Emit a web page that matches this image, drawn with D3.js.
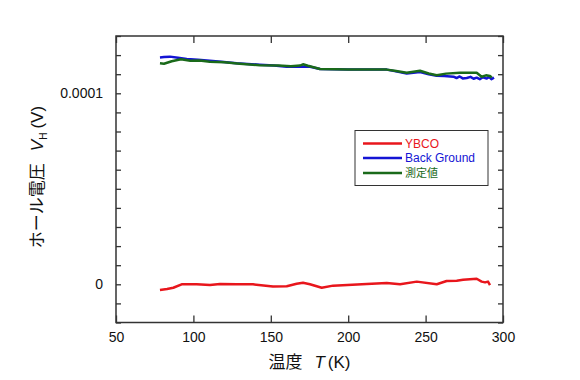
<!DOCTYPE html>
<html><head><meta charset="utf-8">
<script src="https://cdn.jsdelivr.net/npm/d3@7"></script>
<style>body{margin:0;background:#fff}svg{display:block}</style>
</head><body>
<svg id="c" width="580" height="380"></svg>
<script>
// ---- data (T in K, V_H in units of 1e-4 V) ----
const ybcoT = [78.4,83,87.0,92.4,102.1,110.7,117.2,128,138.5,151.4,160.3,166.7,170.8,175.3,182.9,190.2,212.0,224.9,233.5,244.3,257.2,263.6,270.1,274.2,283.0,286.2,288.4,290.3,291.6];
const ybcoV = [-0.030,-0.025,-0.018,0.000,0.000,-0.004,0.002,0.000,0.000,-0.012,-0.010,0.003,0.008,0.000,-0.018,-0.007,0.002,0.007,0.000,0.014,0.000,0.017,0.019,0.024,0.029,0.014,0.010,0.014,-0.004];
const bgT = [78.4,81,84.9,90,95.7,103,110.6,118,127.9,135,142.8,152,160.3,168,175.4,181.8,200,224.9,230,237.8,246.4,252,257.2,262,268.0,270,272,274,276.6,279,281,283,285,287,289.5,291,292.5,294.2];
const bgV = [1.188,1.190,1.192,1.186,1.180,1.176,1.171,1.165,1.157,1.154,1.150,1.145,1.139,1.140,1.139,1.127,1.125,1.124,1.116,1.104,1.111,1.100,1.092,1.090,1.087,1.080,1.088,1.078,1.080,1.086,1.076,1.082,1.074,1.084,1.077,1.086,1.074,1.082];
const msT = [78.4,81,86,92,98,104,110.6,120,130,142.8,155,163,168.9,170.8,174,181.8,200,224.9,230,237.8,246.4,252,257.2,263.2,272.2,283.0,286.2,289,291.6,292.7];
const msV = [1.157,1.155,1.168,1.178,1.170,1.172,1.165,1.162,1.155,1.147,1.146,1.142,1.145,1.152,1.144,1.127,1.125,1.124,1.118,1.108,1.118,1.104,1.095,1.103,1.108,1.108,1.087,1.094,1.091,1.082];
const xTicks = [50,100,150,200,250,300];
const yTicks = d3.range(-2,14).map(i => i*0.1);   // every 1e-5 V
const yLabelTicks = [0, 1];
const yLabelText = ["0","0.0001"];
const seriesNames = ["YBCO","Back Ground","測定値"];
const seriesColors = ["#e8161c","#1414d4","#1a6a1a"];

const svg = d3.select("#c");
const L=116, R=503, T=36, B=322.5;
const x = d3.scaleLinear().domain([50,300]).range([L,R]);
const y = d3.scaleLinear().domain([-0.2,1.3]).range([B,T]);
const font = "'Liberation Sans', Arial, 'Noto Sans CJK JP', sans-serif";
const jp = "'Noto Sans CJK JP', 'Liberation Sans', sans-serif";

// frame
svg.append("rect").attr("x",L).attr("y",T).attr("width",R-L).attr("height",B-T)
  .attr("fill","none").attr("stroke","#333").attr("stroke-width",1.5);

function styleAxis(g){ g.select(".domain").remove(); g.selectAll(".tick line").attr("stroke","#333").attr("stroke-width",1.3); }
// x ticks bottom & top (inward)
svg.append("g").attr("transform",`translate(0,${B})`)
  .call(d3.axisBottom(x).tickValues(xTicks).tickSize(-7).tickPadding(10).tickFormat(d3.format("d")))
  .call(styleAxis)
  .call(g=>g.selectAll("text").attr("font-family",font).attr("font-size",14).attr("fill","#111"));
svg.append("g").attr("transform",`translate(0,${T})`)
  .call(d3.axisTop(x).tickValues(xTicks).tickSize(-7).tickFormat(""))
  .call(styleAxis);
// y ticks left & right (inward)
svg.append("g").attr("transform",`translate(${L},0)`)
  .call(d3.axisLeft(y).tickValues(yTicks).tickSize(-5).tickFormat(""))
  .call(styleAxis);
svg.append("g").attr("transform",`translate(${R},0)`)
  .call(d3.axisRight(y).tickValues(yTicks).tickSize(-5).tickFormat(""))
  .call(styleAxis);
// y labels
svg.append("g").selectAll("text").data(yLabelTicks).join("text")
  .attr("x",L-13).attr("y",d=>y(d)).attr("dy","0.35em").attr("text-anchor","end")
  .attr("font-family",font).attr("font-size",14).attr("fill","#111")
  .text((d,i)=>yLabelText[i]);

// lines
const line = d3.line().x(d=>x(d[0])).y(d=>y(d[1]));
const series = [
  d3.zip(ybcoT,ybcoV), d3.zip(bgT,bgV), d3.zip(msT,msV)
];
series.forEach((s,i)=>{
  svg.append("path").datum(s).attr("d",line).attr("fill","none")
    .attr("stroke",seriesColors[i]).attr("stroke-width",2.5).attr("stroke-linejoin","round");
});

// legend
svg.append("rect").attr("x",355).attr("y",130.5).attr("width",133).attr("height",55)
  .attr("fill","#fff").attr("stroke","#333").attr("stroke-width",1);
const rowsY=[143.5,158,173];
seriesNames.forEach((n,i)=>{
  svg.append("line").attr("x1",363).attr("x2",402).attr("y1",rowsY[i]).attr("y2",rowsY[i])
    .attr("stroke",seriesColors[i]).attr("stroke-width",2.5);
  svg.append("text").attr("x",405).attr("y",rowsY[i]).attr("dy","0.36em")
    .attr("font-family",i===2?jp:font).attr("font-size",i===2?11:12).attr("fill",seriesColors[i]).text(n);
});

// axis titles
const xt = svg.append("text").attr("x",(L+R)/2).attr("y",368).attr("text-anchor","middle")
  .attr("font-family",jp).attr("font-size",17).attr("fill","#111");
xt.append("tspan").text("温度");
xt.append("tspan").attr("font-family",font).attr("font-style","italic").attr("dx",12).text("T");
xt.append("tspan").attr("font-family",font).attr("dx",3).text("(K)");

const yt = svg.append("text").attr("transform",`translate(43,177) rotate(-90)`).attr("text-anchor","middle")
  .attr("font-family",jp).attr("font-size",17).attr("fill","#111");
yt.append("tspan").text("ホール電圧");
yt.append("tspan").attr("font-family",font).attr("font-style","italic").attr("dx",12).text("V");
yt.append("tspan").attr("font-family",font).attr("font-size",10).attr("dy",4).text("H");
yt.append("tspan").attr("font-family",font).attr("dy",-4).attr("dx",4).text("(V)");
</script>
</body></html>
